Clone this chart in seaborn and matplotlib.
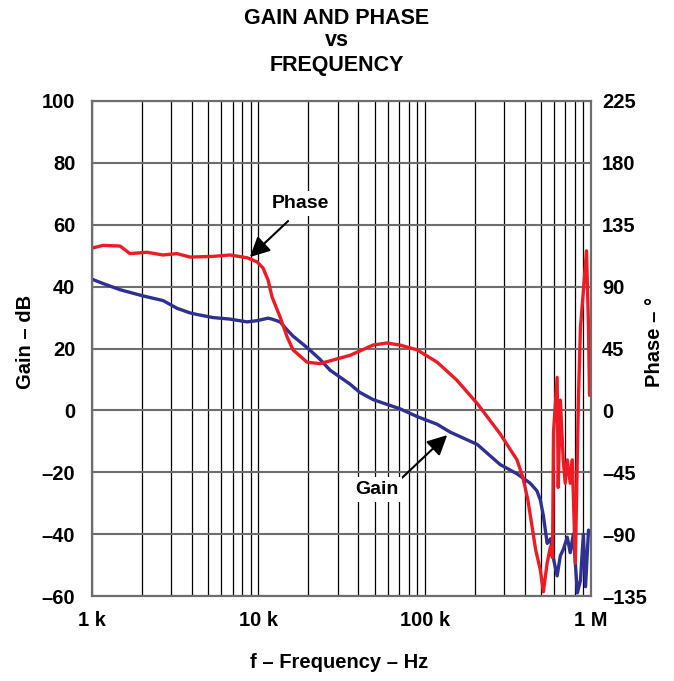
import numpy as np
import pandas as pd
import matplotlib
matplotlib.use("Agg")
import matplotlib.pyplot as plt
from matplotlib.ticker import FixedLocator, FixedFormatter
import seaborn as sns

# Gain response (Hz, dB)
gain_freq = [1000, 1165, 1474, 2026, 2673, 3243, 3886, 4276, 5341, 6755, 8570, 9820,
             11430, 12090, 13510, 14900, 16170, 19640, 23490, 26990, 35550, 40790,
             48900, 56000, 71100, 90100, 119000, 142000, 207000, 284000, 359000,
             430000, 473000, 496000, 517000, 545000, 571000, 595000, 626000, 654000,
             681000, 720000, 750000, 783000, 828000, 864000, 900000, 927000, 966000]
gain_db = [42.4, 41.0, 39.0, 37.0, 35.5, 33.0, 31.5, 31.0, 30.0, 29.5, 28.6, 29.0,
           29.8, 29.5, 28.6, 26.0, 24.0, 20.3, 16.5, 13.0, 8.5, 5.8,
           3.5, 2.4, 0.5, -2.0, -4.5, -7.0, -11.0, -17.5, -20.5,
           -23.5, -26.0, -29.0, -34.0, -43.0, -41.5, -48.0, -53.5, -47.0,
           -45.0, -41.0, -46.0, -40.0, -59.0, -55.0, -40.0, -57.0, -38.7]

# Phase response (Hz, degrees)
phase_freq = [1000, 1165, 1474, 1692, 2141, 2673, 3243, 3886, 5341, 6755, 8570, 9820,
              10670, 11430, 12090, 13510, 14900, 16170, 19640, 23490, 28070, 35550,
              48900, 59200, 71100, 90100, 119000, 156000, 207000, 284000, 359000,
              389000, 417000, 443000, 465000, 496000, 517000, 545000, 571000, 587000,
              595000, 626000, 635000, 654000, 681000, 700000, 720000, 750000, 772000,
              805000, 840000, 864000, 900000, 940000, 966000, 980000]
phase_deg = [118, 120, 119.5, 114, 115, 113, 114, 111.5, 112, 113, 111, 108,
             103.5, 95, 82.5, 68, 53.4, 44, 35, 34, 36.6, 40,
             47.5, 49, 47.5, 44, 35, 22, 5, -17, -36,
             -48.5, -65, -85, -101.5, -116, -132, -111, -99, -107,
             -16, 24, -56, 7.5, -36, -53, -36, -53, -36,
             -111, 7.5, 60, 87, 116, 60, 11]

x_ticks = [1e3, 1e4, 1e5, 1e6]
x_tick_labels = ["1 k", "10 k", "100 k", "1 M"]
gain_ticks = [-60, -40, -20, 0, 20, 40, 60, 80, 100]
phase_ticks = [-135, -90, -45, 0, 45, 90, 135, 180, 225]

sns.set_theme(style="white")
plt.rcParams["font.family"] = ["Liberation Sans", "DejaVu Sans"]
plt.rcParams["font.weight"] = "bold"
plt.rcParams["text.color"] = "black"
plt.rcParams["xtick.color"] = "black"
plt.rcParams["ytick.color"] = "black"

def dash_label(v):
    return f"{v}".replace("-", "\u2013")

fig = plt.figure(figsize=(6.74, 6.81), dpi=100)
ax = fig.add_axes([92 / 674, 1 - 596 / 681, 499 / 674, 495 / 681])
ax2 = ax.twinx()

gain_df = pd.DataFrame({"f": gain_freq, "gain": gain_db})
phase_df = pd.DataFrame({"f": phase_freq, "phase": phase_deg})

sns.lineplot(data=gain_df, x="f", y="gain", ax=ax, color="#2E3192", lw=2.4,
             estimator=None, sort=False)
sns.lineplot(data=phase_df, x="f", y="phase", ax=ax2, color="#ED1C24", lw=2.4,
             estimator=None, sort=False)

for a in (ax, ax2):
    a.set_xscale("log")
    a.set_xlim(1e3, 1e6)
    a.set_xlabel("")
    a.set_ylabel("")
    a.tick_params(length=0)

ax.set_ylim(-60, 100)
ax2.set_ylim(-135, 225)

# Log grid: every integer multiple within each decade
minor = [m * 10 ** e for e in range(3, 6) for m in range(2, 10)]
ax.xaxis.set_major_locator(FixedLocator(x_ticks))
ax.xaxis.set_major_formatter(FixedFormatter(x_tick_labels))
ax.xaxis.set_minor_locator(FixedLocator(minor))
ax.yaxis.set_major_locator(FixedLocator(gain_ticks))
ax.yaxis.set_major_formatter(FixedFormatter([dash_label(v) for v in gain_ticks]))
ax2.yaxis.set_major_locator(FixedLocator(phase_ticks))
ax2.yaxis.set_major_formatter(FixedFormatter([dash_label(v) for v in phase_ticks]))

ax.grid(True, which="major", axis="x", color="black", lw=0.9)
ax.grid(True, which="minor", axis="x", color="black", lw=0.9)
ax.grid(True, which="major", axis="y", color="#6d6d6d", lw=1.5)
ax2.grid(False)
ax.set_axisbelow(True)

for a in (ax, ax2):
    for s in a.spines.values():
        s.set_color("#6d6d6d")
        s.set_linewidth(1.5)

ax.tick_params(axis="x", pad=11, labelsize=14.5)
ax.tick_params(axis="y", pad=12, labelsize=14.5)
ax2.tick_params(axis="y", pad=8, labelsize=14.5)
for lab in ax.get_xticklabels() + ax.get_yticklabels() + ax2.get_yticklabels():
    lab.set_fontweight("bold")

fig.text(26 / 674, 1 - 342 / 681, "Gain \u2013 dB", rotation=90, ha="center", va="center",
         fontsize=14.5, fontweight="bold")
fig.text(655 / 674, 1 - 342 / 681, "Phase \u2013 \u00b0", rotation=90, ha="center", va="center",
         fontsize=14.5, fontweight="bold")
fig.text(339 / 674, 1 - 663 / 681, "f \u2013 Frequency \u2013 Hz", ha="center", va="center",
         fontsize=14.5, fontweight="bold")

for y, t in [(18, "GAIN AND PHASE"), (41, "vs"), (65, "FREQUENCY")]:
    fig.text(337 / 674, 1 - y / 681, t, ha="center", va="center", fontsize=15.5, fontweight="bold")

# Callouts
arrow = dict(arrowstyle="-|>,head_length=1.0,head_width=0.5", color="black", lw=1.5,
             shrinkA=0, shrinkB=0)
ax2.annotate("", xy=(8900, 111.5), xytext=(15100, 137.7), arrowprops=arrow)
ax2.text(17800, 150.5, "Phase", ha="center", va="center", fontsize=14, fontweight="bold",
         bbox=dict(facecolor="white", edgecolor="none", pad=3))
ax.annotate("", xy=(136600, -8.0), xytext=(73100, -21.8), arrowprops=arrow)
ax2.text(51300, -25.7 * 2.25, "Gain", ha="center", va="center", fontsize=14, fontweight="bold",
         bbox=dict(facecolor="white", edgecolor="none", pad=3))

fig.savefig("out.png", dpi=100)
